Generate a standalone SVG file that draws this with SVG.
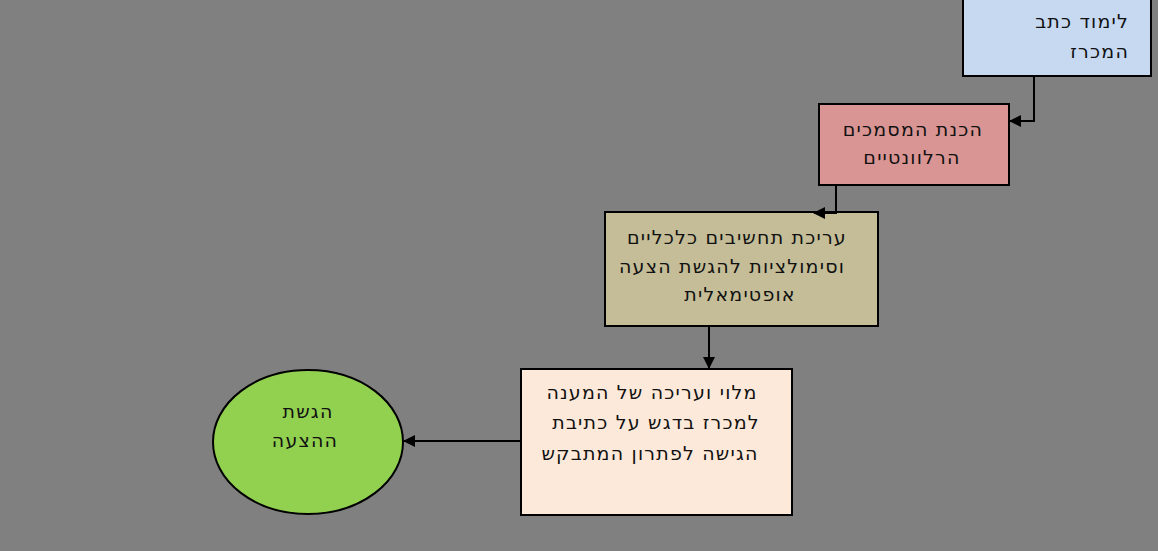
<svg xmlns="http://www.w3.org/2000/svg" width="1158" height="551" viewBox="0 0 1158 551">
<defs>
<marker id="arr" markerWidth="12" markerHeight="12" refX="11" refY="6" orient="auto" markerUnits="userSpaceOnUse">
<path d="M0,0 L12,6 L0,12 Z" fill="#000"/>
</marker>
<style>
.box{stroke:#000;stroke-width:2}
.t{font-family:"DejaVu Sans","Noto Sans",sans-serif;font-size:19px;letter-spacing:1.2px;fill:#111;direction:rtl;unicode-bidi:embed}
.c{text-anchor:middle}
.conn{fill:none;stroke:#000;stroke-width:2}
</style>
</defs>
<rect width="1158" height="551" fill="#808080"/>
<g id="n1">
<rect class="box" x="963" y="-5" width="188" height="81" fill="#c6d9f1"/>
<text class="t" x="1129" y="28">לימוד כתב</text>
<text class="t" x="1129" y="58">המכרז</text>
</g>
<g id="n2">
<rect class="box" x="819" y="104" width="190" height="81" fill="#d99594"/>
<text class="t c" x="913" y="136">הכנת המסמכים</text>
<text class="t c" x="912" y="164">הרלוונטיים</text>
</g>
<g id="n3">
<rect class="box" x="605" y="212" width="273" height="114" fill="#c4bd97"/>
<text class="t c" x="737" y="244">עריכת תחשיבים כלכליים</text>
<text class="t c" x="732" y="273">וסימולציות להגשת הצעה</text>
<text class="t c" x="740" y="301">אופטימאלית</text>
</g>
<g id="n4">
<rect class="box" x="521" y="369" width="271" height="146" fill="#fde9d9"/>
<text class="t c" x="652" y="399">מלוי ועריכה של המענה</text>
<text class="t c" x="656" y="429">למכרז בדגש על כתיבת</text>
<text class="t c" x="650" y="460">הגישה לפתרון המתבקש</text>
</g>
<g id="n5">
<ellipse class="box" cx="308" cy="442" rx="95" ry="72" fill="#92d050"/>
<text class="t c" x="308" y="418">הגשת</text>
<text class="t c" x="305" y="447">ההצעה</text>
</g>
<g id="connectors">
<path class="conn" d="M1034,77 V121 H1010" marker-end="url(#arr)"/>
<path class="conn" d="M836,186 V213 H814" marker-end="url(#arr)"/>
<path class="conn" d="M709,327 V368" marker-end="url(#arr)"/>
<path class="conn" d="M520,441 H404" marker-end="url(#arr)"/>
</g>
</svg>
